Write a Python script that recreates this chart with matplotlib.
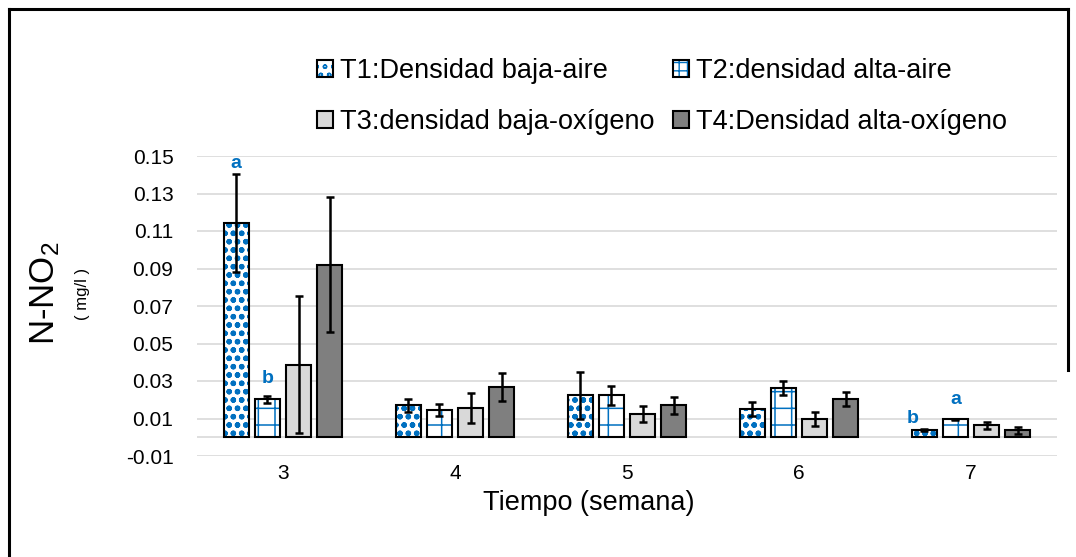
import numpy as np
import matplotlib
matplotlib.use('Agg')
import matplotlib.pyplot as plt
from matplotlib.patches import Patch
from matplotlib.legend_handler import HandlerTuple
from matplotlib.lines import Line2D

# datos
semanas = ['3', '4', '5', '6', '7']
tratamientos = ['T1:Densidad baja-aire', 'T2:densidad alta-aire',
                'T3:densidad baja-oxígeno', 'T4:Densidad alta-oxígeno']
t1 = [0.1143, 0.0170, 0.0223, 0.0149, 0.0037]
t2 = [0.0202, 0.0144, 0.0223, 0.0262, 0.0097]
t3 = [0.0388, 0.0154, 0.0122, 0.0099, 0.0064]
t4 = [0.0920, 0.0268, 0.0170, 0.0204, 0.0037]
err1 = [0.0260, 0.0036, 0.0124, 0.0037, 0.0005]
err2 = [0.0017, 0.0031, 0.0050, 0.0038, 0.0003]
err3 = [0.0367, 0.0080, 0.0043, 0.0038, 0.0020]
err4 = [0.0360, 0.0077, 0.0044, 0.0037, 0.0020]
letras = {(0, 0): 'a', (0, 1): 'b', (4, 0): 'b', (4, 1): 'a'}
y_ticks = [-0.01, 0.01, 0.03, 0.05, 0.07, 0.09, 0.11, 0.13, 0.15]

azul = '#0070C0'
fuente = ['Liberation Sans', 'DejaVu Sans']
plt.rcParams['font.family'] = fuente
plt.rcParams['mathtext.fontset'] = 'custom'
plt.rcParams['mathtext.rm'] = 'Liberation Sans'

fig = plt.figure(figsize=(10.76, 5.57), dpi=100)
ax = fig.add_axes([197 / 1076, 1 - 456 / 557, 860 / 1076, 300 / 557])

valores = [t1, t2, t3, t4]
errores = [err1, err2, err3, err4]
estilos = [
    dict(facecolor='white', edgecolor=azul, hatch='oo', hleg='oo', hlw=1.6),
    dict(facecolor='white', edgecolor=azul, hatch='+', hleg='++', hlw=1.1),
    dict(facecolor='#d9d9d9', edgecolor='#d9d9d9', hatch=None, hleg=None, hlw=1.0),
    dict(facecolor='#7f7f7f', edgecolor='#7f7f7f', hatch=None, hleg=None, hlw=1.0),
]

x = np.arange(len(semanas))
paso = 0.182
ancho = 0.145
handles = []
for j in range(4):
    xs = x + (j - 1.5) * paso
    st = estilos[j]
    with plt.rc_context({'hatch.linewidth': st['hlw']}):
        bars = ax.bar(xs, valores[j], ancho, facecolor=st['facecolor'],
                      edgecolor=st['edgecolor'], hatch=st['hatch'],
                      linewidth=0, zorder=3)
        for b in bars:
            if hasattr(b, 'set_hatch_linewidth'):
                b.set_hatch_linewidth(st['hlw'])
    ax.bar(xs, valores[j], ancho, fill=False, edgecolor='black',
           linewidth=1.5, zorder=4)
    ax.errorbar(xs, valores[j], yerr=errores[j], fmt='none', ecolor='black',
                elinewidth=1.8, capsize=3, capthick=1.8, zorder=5)
    with plt.rc_context({'hatch.linewidth': st['hlw']}):
        h1 = Patch(facecolor=st['facecolor'], edgecolor=st['edgecolor'],
                   hatch=st['hleg'], linewidth=0)
        if hasattr(h1, 'set_hatch_linewidth'):
            h1.set_hatch_linewidth(st['hlw'])
    h2 = Patch(fill=False, edgecolor='black', linewidth=1.5)
    handles.append((h1, h2))

# letras de significancia
desplaz = {(0, 0): (0, 8), (0, 1): (0, 13), (4, 0): (-8, 8), (4, 1): (0, 14)}
for (i, j), letra in letras.items():
    xs = x[i] + (j - 1.5) * paso
    ytop = valores[j][i] + errores[j][i]
    ax.annotate(letra, (xs, ytop), xytext=desplaz[(i, j)],
                textcoords='offset points', ha='center', va='center',
                color=azul, fontsize=14, fontweight='bold', zorder=6)

ax.set_xlim(-0.5, 4.5)
ax.set_ylim(-0.01, 0.15)
ax.set_yticks(y_ticks)
ax.set_yticklabels(['%.2f' % v for v in y_ticks])
ax.set_xticks(x)
ax.set_xticklabels(semanas)
ax.tick_params(axis='y', length=0, pad=17, labelsize=15)
ax.tick_params(axis='x', length=0, pad=6, labelsize=15)
ax.grid(axis='y', color='#d9d9d9', linewidth=1.2, zorder=0)
ax.axhline(0, color='#d9d9d9', linewidth=1.2, zorder=1)
for s in ax.spines.values():
    s.set_visible(False)

fig.text(589 / 1076, 1 - 503 / 557, 'Tiempo (semana)', ha='center',
         va='center', fontsize=19.5)
fig.text(45 / 1076, 1 - 293 / 557, r'$\mathregular{N\text{-}NO_2}$',
         rotation=90, ha='center', va='center', fontsize=25)
fig.text(83 / 1076, 1 - 294 / 557, '( mg/l )', rotation=90, ha='center',
         va='center', fontsize=12)

# orden por filas: T1 T2 / T3 T4
orden = [0, 2, 1, 3]
fig.legend([handles[k] for k in orden], [tratamientos[k] for k in orden],
           ncol=2, loc='upper left',
           bbox_to_anchor=(317 / 1076, 1 - 58 / 557), frameon=False,
           fontsize=19.5, handlelength=0.6, handleheight=0.6,
           handletextpad=0.26, columnspacing=0.66, labelspacing=0.92,
           borderpad=0, borderaxespad=0,
           handler_map={tuple: HandlerTuple(ndivide=1, pad=0)})

# marco de la figura
marco = dict(color='black', linewidth=2.2, transform=fig.transFigure)
fig.add_artist(Line2D([9 / 1076, 1068 / 1076], [1 - 9 / 557, 1 - 9 / 557], **marco))
fig.add_artist(Line2D([9 / 1076, 9 / 1076], [1 - 9 / 557, 0], **marco))
fig.add_artist(Line2D([1068 / 1076, 1068 / 1076], [1 - 9 / 557, 1 - 370 / 557], **marco))

fig.savefig('out.png', dpi=100)
